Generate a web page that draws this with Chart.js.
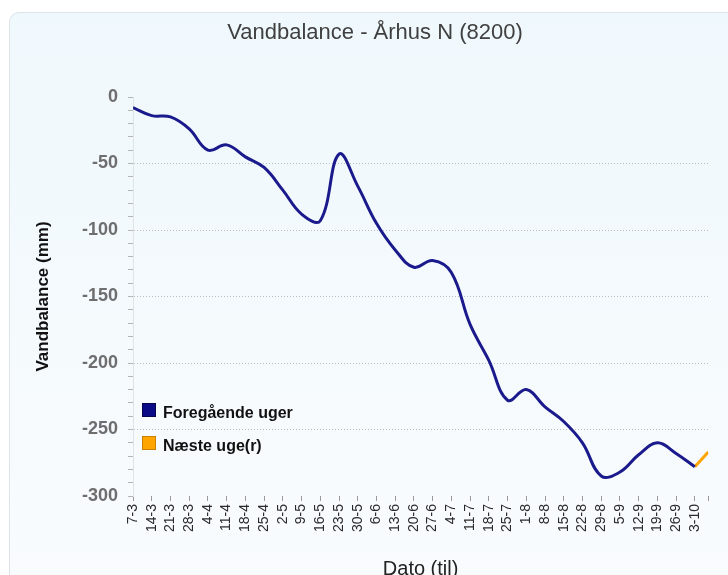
<!DOCTYPE html>
<html>
<head>
<meta charset="utf-8">
<script src="https://cdn.jsdelivr.net/npm/chart.js@4/dist/chart.umd.min.js"></script>
<style>
  html, body { margin: 0; padding: 0; background: #ffffff; overflow: hidden; }
  #card {
    position: absolute; left: 9px; top: 12px; width: 760px; height: 620px;
    border: 1px solid #dde4e8; border-radius: 10px;
    background: linear-gradient(to bottom, #eff8fc 0%, #f5fafd 55%, #fafcfd 100%);
  }
  #c { position: absolute; left: 0; top: 0; }
</style>
</head>
<body>
<div id="card"></div>
<canvas id="c" width="728" height="575"></canvas>
<script>
const chartTitle = 'Vandbalance - Århus N (8200)';
const yAxisTitle = 'Vandbalance (mm)';
const xAxisTitle = 'Dato (til)';
const categories = ['7-3','14-3','21-3','28-3','4-4','11-4','18-4','25-4','2-5','9-5','16-5','23-5','30-5','6-6','13-6','20-6','27-6','4-7','11-7','18-7','25-7','1-8','8-8','15-8','22-8','29-8','5-9','12-9','19-9','26-9','3-10'];
const pastLabel = 'Foregående uger';
const pastValues = [-8, -14, -15, -24, -40, -36, -45, -53, -70, -88, -93, -43, -67, -95, -115, -128, -123, -132, -171, -198, -228, -220, -233, -244, -260, -285, -282, -269, -260, -268, -278];
const nextLabel = 'Næste uge(r)';
const nextDays = [0, 5];           // days after the last date
const nextValues = [-278, -267];
const yMin = -300, yMax = 0, yMinorStep = 10, yMajorStep = 50;

const pastColor = '#1b1a8c';
const nextColor = '#ffa500';
const FONT = 'Liberation Sans, Arial, sans-serif';

const lastIdx = categories.length - 1;
const xMax = lastIdx + nextDays[nextDays.length - 1] / 7;

const pastData = pastValues.map((v, i) => ({ x: i, y: v }));
const nextData = nextValues.map((v, k) => ({ x: lastIdx + nextDays[k] / 7, y: v }));

const textPlugin = {
  id: 'texts',
  afterDraw(chart) {
    const ctx = chart.ctx;
    const area = chart.chartArea;
    ctx.save();
    // title
    ctx.fillStyle = '#404040';
    ctx.font = '22px ' + FONT;
    ctx.textAlign = 'center';
    ctx.textBaseline = 'alphabetic';
    ctx.fillText(chartTitle, 375, 39);
    // x axis title
    ctx.fillStyle = '#222';
    ctx.font = '20px ' + FONT;
    ctx.fillText(xAxisTitle, (area.left + area.right) / 2, 575);
    // y axis title
    ctx.save();
    ctx.translate(43, (area.top + area.bottom) / 2);
    ctx.rotate(-Math.PI / 2);
    ctx.fillStyle = '#111';
    ctx.font = 'bold 17px ' + FONT;
    ctx.textBaseline = 'middle';
    ctx.fillText(yAxisTitle, 0, 0);
    ctx.restore();
    // legend
    const items = [
      { label: chart.data.datasets[0].label, color: '#0b0a86', edge: '#05054f', y: 403 },
      { label: chart.data.datasets[1].label, color: nextColor, edge: '#c98000', y: 436 }
    ];
    ctx.textAlign = 'left';
    ctx.textBaseline = 'alphabetic';
    ctx.font = 'bold 16px ' + FONT;
    items.forEach(it => {
      ctx.fillStyle = it.color;
      ctx.fillRect(142, it.y, 14, 14);
      ctx.strokeStyle = it.edge;
      ctx.lineWidth = 1;
      ctx.strokeRect(142.5, it.y + 0.5, 13, 13);
      ctx.fillStyle = '#111';
      ctx.fillText(it.label, 163, it.y + 15);
    });
    ctx.restore();
  }
};

new Chart(document.getElementById('c'), {
  type: 'line',
  data: {
    datasets: [
      { label: pastLabel, data: pastData, borderColor: pastColor, borderWidth: 3, pointRadius: 0, tension: 0.4, fill: false },
      { label: nextLabel, data: nextData, borderColor: nextColor, borderWidth: 3, pointRadius: 0, tension: 0.4, fill: false }
    ]
  },
  options: {
    responsive: false,
    animation: false,
    devicePixelRatio: 1,
    layout: { padding: { top: 97, right: 12, bottom: 0, left: 0 } },
    plugins: { legend: { display: false }, title: { display: false }, tooltip: { enabled: false } },
    scales: {
      x: {
        type: 'linear',
        min: 0,
        max: xMax,
        afterBuildTicks(scale) {
          scale.ticks = categories.map((c, i) => ({ value: i })).concat([{ value: xMax }]);
        },
        afterFit(scale) { scale.height = 79; },
        ticks: {
          autoSkip: false,
          minRotation: 90,
          maxRotation: 90,
          padding: 3,
          color: '#2a2a2a',
          font: { family: FONT, size: 14 },
          callback: (v) => Number.isInteger(v) && categories[v] !== undefined ? categories[v] : ''
        },
        grid: { drawOnChartArea: false, drawTicks: true, tickLength: 5, tickColor: '#9a9a9a' },
        border: { display: false }
      },
      y: {
        min: yMin,
        max: yMax,
        afterFit(scale) { scale.width = 133; },
        ticks: {
          stepSize: yMinorStep,
          autoSkip: false,
          padding: 10,
          color: '#6e6e6e',
          font: { family: FONT, size: 18, weight: 'bold' },
          callback: (v) => (v % yMajorStep === 0 ? String(v) : '')
        },
        grid: {
          drawOnChartArea: true,
          drawTicks: true,
          tickLength: 5,
          tickColor: '#b5b5b5',
          color: (c) => {
            const v = c.tick ? c.tick.value : 0;
            return (v % yMajorStep === 0 && v !== yMin && v !== yMax) ? '#bdbdbd' : 'rgba(0,0,0,0)';
          }
        },
        border: { display: true, color: '#dfe4e7', dash: [1, 2] }
      }
    }
  },
  plugins: [textPlugin]
});
</script>
</body>
</html>
